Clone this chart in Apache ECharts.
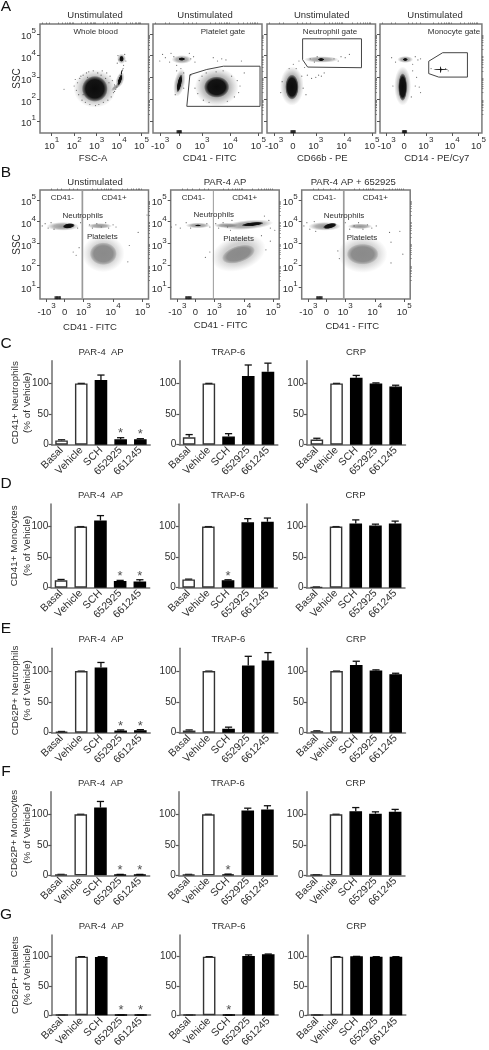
<!DOCTYPE html>
<html><head><meta charset="utf-8">
<style>html,body{margin:0;padding:0;background:#fff}#c{width:489px;height:1050px}</style>
<script src="https://cdn.jsdelivr.net/npm/echarts@6/dist/echarts.min.js"></script>
</head><body><div id="c"></div>
<script>
/* ---------- bar data (% of vehicle) ---------- */
const CATEGORIES = ['Basal','Vehicle','SCH','652925','661245'];
const C_PAR = [7,100,105.4,8.7,8.7],      C_PAR_TOP = [8,100,113.6,11.4,9.8],      C_PAR_STAR = [null,null,null,21,20];
const C_TRAP = [12,100,13.5,112,119],     C_TRAP_TOP = [16.5,100,18,130,133],      C_TRAP_STAR = [];
const C_CRP = [8.5,100,109,100,95],       C_CRP_TOP = [10.5,100,113,100.8,97],     C_CRP_STAR = [];
const D_PAR = [12,100,110,11,10],         D_PAR_TOP = [13.5,100,118,12,13],        D_PAR_STAR = [null,null,null,22,22];
const D_TRAP = [13.5,100,12,107,108],     D_TRAP_TOP = [14,100,13,113,114],        D_TRAP_STAR = [null,null,22];
const D_CRP = [1,100,105,102,105],        D_CRP_TOP = [1.2,100,111,104,109],       D_CRP_STAR = [];
const E_PAR = [1.5,100,106,3.5,4],        E_PAR_TOP = [2,100,114,4.5,5],           E_PAR_STAR = [null,null,null,14,14];
const E_TRAP = [3.5,100,6.5,109,117],     E_TRAP_TOP = [4.5,100,9,124,130],        E_TRAP_STAR = [];
const E_CRP = [2.5,100,110,101,95],       E_CRP_TOP = [3,100,116,102,96.5],        E_CRP_STAR = [];
const F_PAR = [1,100,111,1,1],            F_PAR_TOP = [1.5,100,121,1.5,1.5],       F_PAR_STAR = [null,null,null,11.5,11.5];
const F_TRAP = [1,100,1.5,106,108],       F_TRAP_TOP = [1.5,100,2,110,114],        F_TRAP_STAR = [null,null,11.5];
const F_CRP = [0.8,100,105,101,104],      F_CRP_TOP = [1,100,111,104,108],         F_CRP_STAR = [];
const G_PAR = [0.5,100,99.5,0.5,0.5],     G_PAR_TOP = [0.5,100,100,0.5,0.5],       G_PAR_STAR = [null,null,null,11,11];
const G_TRAP = [0.5,100,0.5,101,104],     G_TRAP_TOP = [0.5,100,0.5,103,104.5],    G_TRAP_STAR = [null,null,11];
const G_CRP = [0.5,100,100.5,100,100],    G_CRP_TOP = [0.5,100,100.5,100,100],     G_CRP_STAR = [];

/* ---------- flow plots: axis positions in decades ---------- */
const LOG_TICKS = [1,2,3,4,5];
const BIEX_A_TICKS = [1.51,2.18,3,4,5];
const BIEX_B_TICKS = [1.75,2.36,3,4,5];
const LOG_TICK_LABELS = ['10^1','10^2','10^3','10^4','10^5'];
const BIEX_TICK_LABELS = ['-10^3','0','10^3','10^4','10^5'];

/* density clouds: [x, y, spreadX, spreadY, tiltDeg] */
const A1_HAZE = [[2.92,2.48,.95,.88,0],[4.04,2.88,.18,.38,-18],[4.11,3.85,.2,.24,0],[3.85,2.55,.26,.1,40]];
const A1_CORE = [[2.92,2.47,.58,.6,0],[4.04,2.88,.08,.28,-18],[4.12,3.25,.03,.15,-10],[4.11,3.85,.1,.14,0]];
const A2_HAZE = [[3.52,2.55,.78,.88,0],[2.2,2.75,.2,.65,-12],[2.28,3.82,.36,.2,0]];
const A2_CORE = [[3.52,2.55,.45,.49,0],[2.2,2.72,.08,.42,-12],[2.28,3.84,.12,.08,0]];
const A3_HAZE = [[2.15,2.6,.42,.9,0],[3.2,3.82,.62,.15,0]];
const A3_CORE = [[2.15,2.55,.24,.58,0],[3.19,3.82,.12,.07,0]];
const A4_HAZE = [[2.12,2.6,.32,.9,0],[2.22,3.82,.3,.16,0]];
const A4_CORE = [[2.12,2.55,.17,.64,0],[2.22,3.82,.1,.07,0],[3.57,3.35,.3,.03,0],[3.57,3.35,.03,.18,0]];
const B1_HAZE = [[2.3,3.78,.55,.2,0],[3.55,3.8,.42,.13,0]];
const B1_CORE = [[2.5,3.8,.21,.12,8]];
const B1_GREY_HAZE = [[3.67,2.53,.72,.86,0]];
const B1_GREY_CORE = [[3.67,2.52,.46,.52,0]];
const B2_HAZE = [[2.45,3.82,.42,.13,0],[4.15,3.85,.85,.22,5],[3.4,3.82,.4,.12,0]];
const B2_CORE = [[2.45,3.82,.1,.05,0],[4.3,3.88,.38,.09,6]];
const B2_GREY_HAZE = [[3.82,2.55,.95,.8,18]];
const B2_GREY_CORE = [[3.82,2.5,.58,.38,18]];
const B3_HAZE = [[2.3,3.78,.55,.2,0],[3.5,3.78,.42,.13,0]];
const B3_CORE = [[2.48,3.8,.24,.12,14]];
const B3_GREY_HAZE = [[3.59,2.5,.84,.86,0]];
const B3_GREY_CORE = [[3.59,2.5,.54,.48,0]];

/* sparse events: [x, y] */
const A1_EVENTS = [[1.55,2.45],[2,2.6],[2.1,2.4],[2.15,2.75],[2.2,2.2],[2.25,2.95],[2.3,3.05],[2.35,1.95],[2.4,3.1],[2.5,1.85],[2.55,3.2],[2.65,3.25],[2.7,1.75],[2.85,3.3],[2.95,1.7],[3.05,3.2],[3.1,1.75],[3.25,3.3],[3.3,1.85],[3.45,3.2],[3.5,1.95],[3.6,3.05],[3.65,2.1],[3.7,2.85],[3.75,2.3],[3.8,2.65],[3.85,2.45],[3.9,2.55],[3.8,2.35],[3.95,2.7],[4.05,3.1],[4.1,3.2],[4.15,3.3],[4.18,3.4],[4,3.8],[3.95,4],[4.25,4.05],[4.3,3.75],[3.92,3.65],[4.2,3.55],[3.4,2.95],[3.55,2.75],[2.4,2.2],[2.6,3],[2.05,2.9],[3.2,3.1]];
const A2_EVENTS = [[1.5,3.75],[1.6,4.05],[1.7,3.9],[1.85,3.7],[1.9,4.1],[2,3.95],[2.1,3.55],[2.55,4.1],[2.6,3.85],[2.7,3.95],[2.75,3.7],[3.4,3.9],[3.55,3.75],[3.7,3.85],[3.85,3.8],[4.4,3.75],[2.1,3.3],[2.25,3.4],[2.35,3.2],[2.35,2.5],[2.05,2.2],[2.6,3.1],[2.75,2.5],[2.85,2.25],[2.9,2.85],[3,3.05],[3.05,1.95],[3.15,3.2],[3.25,1.85],[3.5,3.25],[3.75,3.3],[3.9,1.9],[4.05,3.05],[4.15,2.1],[4.25,2.85],[4.35,2.6],[4.3,2.3],[4.5,3.2]];
const A3_EVENTS = [[2.8,3.85],[2.95,3.7],[3.05,3.95],[3.65,3.85],[3.8,3.75],[3.9,3.95],[4.05,3.9],[4.2,4.05],[2.2,3.6],[2.4,3.75],[2.6,3.45],[2.7,3.1],[2.85,2.95],[3,3],[3.1,3.1],[3.2,3.05],[3.3,3.2],[2.55,2.5],[2.65,2.2],[1.8,2.8],[1.75,2.3],[2.3,3.4],[2.05,3.4],[2.5,3.05]];
const A4_EVENTS = [[1.7,3.9],[1.85,3.7],[2.6,3.95],[2.7,3.8],[2.8,3.85],[2.5,3.6],[2.5,3.3],[2.65,3],[2.75,2.55],[2.8,2.3],[2.6,2.6],[3.2,3.4],[3.75,3.4],[3.85,3.3],[1.75,2.6],[2.45,2.1]];
const B1_EVENTS = [[1.6,3.8],[1.7,3.9],[1.8,3.7],[1.9,3.95],[2,3.65],[2.9,3.95],[2.8,3.7],[3.2,3.85],[3.3,3.7],[3.45,3.9],[3.6,3.75],[3.75,3.95],[3.85,3.7],[4,3.85],[4.1,3.75],[4.85,3.5],[5.15,4.3],[2.65,2.6],[2.75,2.45],[2.85,2.8],[4.55,2.9],[4.5,2.15]];
const B2_EVENTS = [[1.55,3.75],[1.7,3.85],[1.85,3.7],[2.05,3.95],[2.2,3.7],[2.75,3.9],[2.85,3.75],[3.05,3.9],[3.15,3.7],[3.3,3.95],[3.45,3.75],[3.6,4.05],[3.55,3.6],[4.7,4.25],[4.85,4.05],[4.9,3.7],[5.05,3.6],[2.7,2.35],[2.85,2.6],[4.9,3.1],[4.75,2.7],[4.6,3.35]];
const B3_EVENTS = [[1.6,3.8],[1.7,3.95],[1.8,3.65],[1.95,4],[2,3.55],[3,3.95],[3.15,3.65],[3.3,3.8],[3.45,3.95],[3.6,3.65],[3.75,3.85],[3.9,3.7],[4.05,3.8],[4.5,3.5],[4.85,3.55],[4.95,2.5],[2.75,2.65],[2.8,2.3],[4.55,3.05],[4.55,2.1]];
const ZERO_PILE_A = [[2.13,.5],[2.17,.5],[2.21,.5],[2.25,.5]];
const ZERO_PILE_B = [[2.05,.5],[2.1,.5],[2.15,.5],[2.2,.5]];

/* gates, in plot units */
const A2_GATE = [[2.46,1.665],[2.57,3.12],[3.17,3.36],[3.76,3.51],[5.06,3.51],[5.06,1.665],[2.46,1.665]];
const A3_GATE = [[2.53,4.77],[4.63,4.77],[4.63,3.44],[2.71,3.47],[2.53,3.81],[2.53,4.77]];
const A4_GATE = [[3.11,3.74],[3.64,4.13],[4.58,4.13],[4.58,3.01],[3.49,3.01],[3.11,3.17],[3.11,3.74]];
const B1_LINE = [[2.96,.44],[2.96,5.45]];
const B2_LINE = [[2.97,.44],[2.97,5.45]];
const B3_LINE = [[2.95,.44],[2.95,5.45]];

const FONT = '"Liberation Sans",Arial,sans-serif', INK = '#2e2e2e';
const option = {animation:false, backgroundColor:'#fff', title:[], grid:[], xAxis:[], yAxis:[], series:[]};

function text(t,x,y,size,extra){
  option.title.push(Object.assign({text:t,left:x,top:y,textAlign:'center',textVerticalAlign:'middle',padding:0,
    textStyle:{fontFamily:FONT,fontSize:size,fontWeight:'normal',color:INK}},extra||{}));
}
function supLabel(s){
  if(s.indexOf('^')<0) return '{b|'+s+'}';
  const p=s.split('^'); return '{b|'+p[0]+'}{s|'+p[1]+'}';
}
const RICH = {b:{fontFamily:FONT,fontSize:9.5,color:INK,padding:[6,0,0,0]},s:{fontFamily:FONT,fontSize:8,color:INK,padding:[0,0,6,0]}};
const DEC_MINOR=[.301,.477,.602,.699,.778,.845,.903,.954];
function minors(first,last,lead){
  const out=lead.slice();
  for(let d=first;d<last;d++) DEC_MINOR.forEach(m=>out.push(d+m));
  return out;
}
function flowPlot(f){
  const g=option.grid.length;
  option.grid.push({left:f.left,top:f.top,width:f.width,height:109,show:true,borderColor:'#7a7a7a',borderWidth:1.5,backgroundColor:'transparent',containLabel:false});
  const xi=option.xAxis.length, yi=option.yAxis.length;
  const xMap={}; f.xTicks.forEach((v,i)=>xMap[v]=f.xLabels[i]);
  const yMap={}; LOG_TICKS.forEach((v,i)=>yMap[v]=LOG_TICK_LABELS[i]);
  const base={gridIndex:g,type:'value',splitLine:{show:false},axisLine:{show:false}};
  option.xAxis.push(Object.assign({},base,{min:f.xMin,max:f.xMax,
    axisTick:{length:3,inside:false,lineStyle:{color:'#555',width:1},customValues:f.xTicks},
    axisLabel:{customValues:f.xTicks,margin:2,hideOverlap:false,showMinLabel:true,showMaxLabel:true,formatter:v=>supLabel(xMap[v]),rich:RICH}}));
  option.xAxis.push(Object.assign({},base,{min:f.xMin,max:f.xMax,
    axisTick:{length:1.5,lineStyle:{color:'#666',width:.8},customValues:minors(f.xFirst,5,f.xLead)},axisLabel:{show:false}}));
  option.yAxis.push(Object.assign({},base,{min:.44,max:5.45,name:f.yName||'',nameLocation:'middle',nameGap:18,nameRotate:90,nameMoveOverlap:false,
    nameTextStyle:{fontFamily:FONT,fontSize:10,color:INK},
    axisTick:{length:3,lineStyle:{color:'#555',width:1},customValues:LOG_TICKS},
    axisLabel:{show:!!f.yLabels,customValues:LOG_TICKS,margin:4,formatter:v=>supLabel(yMap[v]),rich:RICH}}));
  option.yAxis.push(Object.assign({},base,{min:.44,max:5.45,
    axisTick:{length:1.5,lineStyle:{color:'#666',width:.8},customValues:minors(1,5,[])},axisLabel:{show:false}}));
  const on={xAxisIndex:xi,yAxisIndex:yi,silent:true};
  f.clouds.forEach(c=>option.series.push(cloudSeries(c[0],c[1],c[2],on)));
  option.series.push(Object.assign({type:'scatter',data:f.events,symbolSize:1.2,itemStyle:{color:'#3a3a3a',opacity:.75}},on));
  option.series.push(Object.assign({type:'scatter',data:f.pile,symbol:'rect',symbolSize:[2,3],itemStyle:{color:'#111'}},on));
  if(f.gate) option.series.push(Object.assign({type:'line',data:f.gate,showSymbol:false,lineStyle:{color:f.gateColor||'#444',width:f.gateWidth||1}},on));
}
function cloudSeries(data,rgb,core,on){
  const rgba=a=>'rgba('+rgb+','+a+')';
  const stops=core
    ?[{offset:0,color:rgba(1)},{offset:.7,color:rgba(.95)},{offset:.9,color:rgba(.45)},{offset:1,color:rgba(0)}]
    :[{offset:0,color:rgba(.55)},{offset:.55,color:rgba(.4)},{offset:.8,color:rgba(.16)},{offset:1,color:rgba(0)}];
  return Object.assign({type:'custom',data:data,encode:{x:0,y:1},clip:true,
    renderItem(p,api){
      const c=api.coord([api.value(0),api.value(1)]), s=api.size([api.value(2),api.value(3)]);
      return {type:'circle',x:c[0],y:c[1],rotation:api.value(4)*Math.PI/180,scaleX:s[0]/10,scaleY:s[1]/10,
        shape:{cx:0,cy:0,r:10},
        style:{fill:{type:'radial',x:.5,y:.5,r:.5,colorStops:stops}}};
    }},on);
}

/* ---------- panel A ---------- */
const BK='12,12,12', HZ='60,60,60', GR='138,138,138';
const biexA={xMin:1.26,xMax:5.13,xTicks:BIEX_A_TICKS,xLabels:BIEX_TICK_LABELS,xFirst:3,xLead:[1.35,1.7,1.85,2.35,2.5,2.65,2.8],pile:ZERO_PILE_A,top:24};
flowPlot({left:40,top:24,width:108.5,xMin:.48,xMax:5.31,xTicks:LOG_TICKS,xLabels:LOG_TICK_LABELS,xFirst:1,xLead:[.6,.78,.9],yLabels:true,yName:'SSC',clouds:[[A1_HAZE,HZ,false],[A1_CORE,BK,true]],events:A1_EVENTS,pile:[]});
flowPlot(Object.assign({left:153,width:109,clouds:[[A2_HAZE,HZ,false],[A2_CORE,BK,true]],events:A2_EVENTS,gate:A2_GATE},biexA));
flowPlot(Object.assign({left:267,width:108.5,clouds:[[A3_HAZE,HZ,false],[A3_CORE,BK,true]],events:A3_EVENTS,gate:A3_GATE},biexA));
flowPlot(Object.assign({left:380,width:108.5,clouds:[[A4_HAZE,HZ,false],[A4_CORE,BK,true]],events:A4_EVENTS,gate:A4_GATE},biexA));
[[95,'Unstimulated'],[205,'Unstimulated'],[321.7,'Unstimulated'],[435,'Unstimulated']].forEach(a=>text(a[1],a[0],15,9.5));
[[95.7,'Whole blood'],[223,'Platelet gate'],[330,'Neutrophil gate'],[454,'Monocyte gate']].forEach(a=>text(a[1],a[0],32,8));
[[93,'FSC-A'],[209.7,'CD41 - FITC'],[322.3,'CD66b - PE'],[436.7,'CD14 - PE/Cy7']].forEach(a=>text(a[1],a[0],158.7,9.5));

/* ---------- panel B ---------- */
function bPlot(left,clouds,ev,line,w,yName){
  flowPlot({left,top:190,width:108.5,xMin:1.525,xMax:5.2,xTicks:BIEX_B_TICKS,xLabels:BIEX_TICK_LABELS,xFirst:3,xLead:[1.9,2.1,2.25,2.5,2.65,2.8],yLabels:true,yName,
    clouds,events:ev,pile:ZERO_PILE_B,gate:line,gateColor:'#9a9a9a',gateWidth:w});
}
bPlot(40,[[B1_GREY_HAZE,GR,false],[B1_GREY_CORE,GR,true],[B1_HAZE,HZ,false],[B1_CORE,BK,true]],B1_EVENTS,B1_LINE,1.7,'SSC');
bPlot(170.7,[[B2_GREY_HAZE,GR,false],[B2_GREY_CORE,GR,true],[B2_HAZE,HZ,false],[B2_CORE,BK,true]],B2_EVENTS,B2_LINE,1);
bPlot(301.7,[[B3_GREY_HAZE,GR,false],[B3_GREY_CORE,GR,true],[B3_HAZE,HZ,false],[B3_CORE,BK,true]],B3_EVENTS,B3_LINE,1.7);
[[95,'Unstimulated'],[225,'PAR-4 AP'],[353.3,'PAR-4 AP + 652925']].forEach(a=>text(a[1],a[0],182.3,9.5));
[[90,327.3],[220.7,325.5],[352.3,326]].forEach(a=>text('CD41 - FITC',a[0],a[1],9.5));
[[62.3,114,82.7,102.3,215.7,236.7],[193.3,244.7,213.7,238.7,215,239],[324.3,375.3,344,362,215.7,237.3]].forEach(a=>{
  text('CD41-',a[0],198,8); text('CD41+',a[1],198,8); text('Neutrophils',a[2],a[4],8); text('Platelets',a[3],a[5],8);
});

/* ---------- bar rows ---------- */
const COLS = [{left:51.7,title:101},{left:179.3,title:228.3},{left:307,title:356}];
const COL_NAMES = ['PAR-4  AP','TRAP-6','CRP'];
function barPlot(colIdx,base,top,dx,vals,tops,stars,yName){
  const g=option.grid.length, col=COLS[colIdx], x0=col.left+dx;
  option.grid.push({left:x0,top,width:98.5,height:base-top,containLabel:false});
  const xi=option.xAxis.length, yi=option.yAxis.length;
  option.xAxis.push({gridIndex:g,type:'category',data:CATEGORIES,
    axisLine:{lineStyle:{color:'#6e6e6e',width:1.5}},
    axisTick:{alignWithLabel:true,length:3,lineStyle:{color:'#555',width:1.2}},
    axisLabel:{rotate:45,interval:0,margin:4,fontFamily:FONT,fontSize:10.5,color:INK},splitLine:{show:false}});
  option.yAxis.push({gridIndex:g,type:'value',min:0,max:137,interval:50,
    name:yName||'',nameLocation:'middle',nameGap:18,nameMoveOverlap:false,nameTextStyle:{fontFamily:FONT,fontSize:9.8,lineHeight:12.5,color:INK},
    axisLine:{show:true,lineStyle:{color:'#6e6e6e',width:1.5}},
    axisTick:{show:true,length:3,lineStyle:{color:'#555',width:1.2}},
    axisLabel:{margin:3,showMaxLabel:false,fontFamily:FONT,fontSize:10,color:INK},splitLine:{show:false}});
  const on={xAxisIndex:xi,yAxisIndex:yi,silent:true};
  option.series.push(Object.assign({type:'bar',barWidth:12.6,z:3,
    data:vals.map((v,i)=>({value:v,itemStyle:{color:i<2?'#fff':'#000',borderColor:i<2?'#333':'#000',borderWidth:1.4}}))},on));
  option.series.push(Object.assign({type:'custom',z:2,data:tops.map((t,i)=>[i,vals[i],t]),encode:{x:0,y:[1,2]},
    renderItem(p,api){
      const a=api.coord([api.value(0),api.value(1)]), b=api.coord([api.value(0),api.value(2)]);
      return {type:'group',children:[
        {type:'line',shape:{x1:a[0],y1:a[1],x2:b[0],y2:b[1]},style:{stroke:'#111',lineWidth:1.3}},
        {type:'line',shape:{x1:b[0]-3.6,y1:b[1],x2:b[0]+3.6,y2:b[1]},style:{stroke:'#111',lineWidth:1.3}}]};
    }},on));
  const st=stars.map((v,i)=>v==null?null:[i,v]).filter(Boolean);
  if(st.length) option.series.push(Object.assign({type:'scatter',z:4,data:st,symbolSize:0,
    label:{show:true,position:'inside',offset:[0,2],formatter:'*',fontFamily:FONT,fontSize:13,color:'#222'}},on));
  text(COL_NAMES[colIdx],col.title+dx,top-8.7,9.5);
}
const ROWS = [
 {name:'CD41+ Neutrophils\n(% of Vehicle)',base:444.7,top:360.7,dx:0,d:[[C_PAR,C_PAR_TOP,C_PAR_STAR],[C_TRAP,C_TRAP_TOP,C_TRAP_STAR],[C_CRP,C_CRP_TOP,C_CRP_STAR]]},
 {name:'CD41+ Monocytes\n(% of Vehicle)',base:587.7,top:504,dx:-.5,d:[[D_PAR,D_PAR_TOP,D_PAR_STAR],[D_TRAP,D_TRAP_TOP,D_TRAP_STAR],[D_CRP,D_CRP_TOP,D_CRP_STAR]]},
 {name:'CD62P+ Neutrophils\n(% of Vehicle)',base:732.7,top:648.3,dx:0,d:[[E_PAR,E_PAR_TOP,E_PAR_STAR],[E_TRAP,E_TRAP_TOP,E_TRAP_STAR],[E_CRP,E_CRP_TOP,E_CRP_STAR]]},
 {name:'CD62P+ Monocytes\n(% of Vehicle)',base:875.3,top:791.7,dx:-.5,d:[[F_PAR,F_PAR_TOP,F_PAR_STAR],[F_TRAP,F_TRAP_TOP,F_TRAP_STAR],[F_CRP,F_CRP_TOP,F_CRP_STAR]]},
 {name:'CD62P+ Platelets\n(% of Vehicle)',base:1019,top:935,dx:.3,d:[[G_PAR,G_PAR_TOP,G_PAR_STAR],[G_TRAP,G_TRAP_TOP,G_TRAP_STAR],[G_CRP,G_CRP_TOP,G_CRP_STAR]]}
];
ROWS.forEach(r=>r.d.forEach((d,c)=>barPlot(c,r.base,r.top,r.dx,d[0],d[1],d[2],c===0?r.name:'')));

[['A',7],['B',173],['C',344],['D',484],['E',629],['F',772],['G',915]].forEach(a=>text(a[0],6,a[1],15.5,{textStyle:{fontFamily:FONT,fontSize:15.5,color:'#111',fontWeight:'normal'}}));

echarts.init(document.getElementById('c'),null,{renderer:'canvas'}).setOption(option);
</script></body></html>
